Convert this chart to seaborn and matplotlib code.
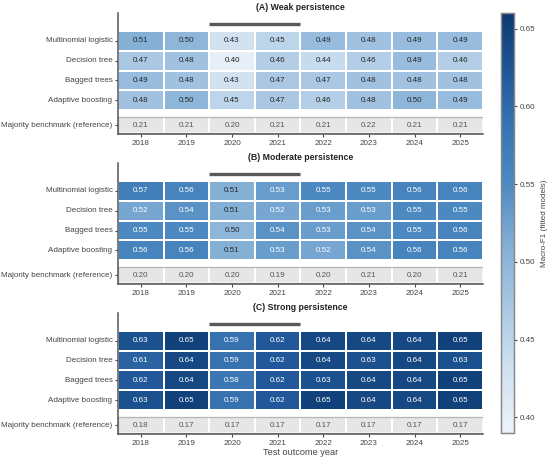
import numpy as np
import pandas as pd
import matplotlib
matplotlib.use("Agg")
import matplotlib.pyplot as plt
import seaborn as sns
from matplotlib.colors import LinearSegmentedColormap
from matplotlib.patches import Rectangle

# data
years = [2018, 2019, 2020, 2021, 2022, 2023, 2024, 2025]
models = ["Multinomial logistic", "Decision tree", "Bagged trees", "Adaptive boosting"]
bench_label = "Majority benchmark (reference)"
covid_years = [2020, 2021]
panel_titles = ["(A) Weak persistence", "(B) Moderate persistence", "(C) Strong persistence"]

weak = [
    [0.51, 0.50, 0.43, 0.45, 0.49, 0.48, 0.49, 0.49],
    [0.47, 0.48, 0.40, 0.46, 0.44, 0.46, 0.49, 0.46],
    [0.49, 0.48, 0.43, 0.47, 0.47, 0.48, 0.48, 0.48],
    [0.48, 0.50, 0.45, 0.47, 0.46, 0.48, 0.50, 0.49],
]
weak_bench = [0.21, 0.21, 0.20, 0.21, 0.21, 0.22, 0.21, 0.21]

moderate = [
    [0.57, 0.56, 0.51, 0.53, 0.55, 0.55, 0.56, 0.56],
    [0.52, 0.54, 0.51, 0.52, 0.53, 0.53, 0.55, 0.55],
    [0.55, 0.55, 0.50, 0.54, 0.53, 0.54, 0.55, 0.56],
    [0.56, 0.56, 0.51, 0.53, 0.52, 0.54, 0.56, 0.56],
]
moderate_bench = [0.20, 0.20, 0.20, 0.19, 0.20, 0.21, 0.20, 0.21]

strong = [
    [0.63, 0.65, 0.59, 0.62, 0.64, 0.64, 0.64, 0.65],
    [0.61, 0.64, 0.59, 0.62, 0.64, 0.63, 0.64, 0.63],
    [0.62, 0.64, 0.58, 0.62, 0.63, 0.64, 0.64, 0.65],
    [0.63, 0.65, 0.59, 0.62, 0.65, 0.64, 0.64, 0.65],
]
strong_bench = [0.18, 0.17, 0.17, 0.17, 0.17, 0.17, 0.17, 0.17]

panels = [(weak, weak_bench), (moderate, moderate_bench), (strong, strong_bench)]
cbar_ticks = [0.40, 0.45, 0.50, 0.55, 0.60, 0.65]

# style
sns.set_theme(style="ticks")
plt.rcParams["font.family"] = ["Liberation Sans", "DejaVu Sans"]

vmin, vmax = 0.39, 0.66
anchors = [0.39, 0.43, 0.47, 0.51, 0.55, 0.59, 0.62, 0.66]
anchor_cols = ["#edf3fa", "#d0e1f0", "#a9c8e3", "#84b0d6", "#4d89c1", "#3672b0", "#22599a", "#0c3a70"]
cmap = LinearSegmentedColormap.from_list(
    "macro_blues", [((a - vmin) / (vmax - vmin), c) for a, c in zip(anchors, anchor_cols)])

fig = plt.figure(figsize=(5.5, 4.61), dpi=100)
cax = fig.add_axes([0.911, 0.0607, 0.0236, 0.911])

ax_bottoms = [0.7093, 0.3839, 0.0586]
bench_top, bench_bot = 4.33, 5.15
fs = 5.8

for i, ((vals, bench), title) in enumerate(zip(panels, panel_titles)):
    ax = fig.add_axes([0.2145, ax_bottoms[i], 0.6636, 0.2625])
    df = pd.DataFrame(vals, index=models, columns=years)
    sns.heatmap(df, ax=ax, cmap=cmap, vmin=vmin, vmax=vmax,
                annot=True, fmt=".2f", annot_kws={"size": fs},
                linewidths=1.3, linecolor="white",
                cbar=(i == 0), cbar_ax=cax if i == 0 else None,
                cbar_kws={"ticks": cbar_ticks})

    # benchmark row, grey, below a small gap
    xe = np.arange(len(years) + 1)
    ax.pcolormesh(xe, [bench_top, bench_bot], np.zeros((1, len(years))),
                  cmap=LinearSegmentedColormap.from_list("g", ["#e6e6e6", "#e6e6e6"]),
                  edgecolors="white", linewidth=1.3)
    ax.add_patch(Rectangle((0, bench_top), len(years), bench_bot - bench_top,
                           fill=False, edgecolor="#b5b5b5", lw=0.9))
    for j, b in enumerate(bench):
        ax.text(j + 0.5, (bench_top + bench_bot) / 2, f"{b:.2f}", ha="center", va="center",
                fontsize=fs, color="#555555")

    # covid bar above 2020-2021
    c0 = years.index(covid_years[0])
    c1 = years.index(covid_years[-1]) + 1
    ax.plot([c0, c1], [-0.33, -0.33], color="#5a5a5a", lw=2.4, solid_capstyle="butt", clip_on=False)

    ax.set_xlim(0, len(years))
    ax.set_ylim(5.18, -0.88)
    ax.set_yticks(list(np.arange(len(models)) + 0.5) + [(bench_top + bench_bot) / 2])
    ax.set_yticklabels(models + [bench_label], rotation=0)
    ax.set_xticks(np.arange(len(years)) + 0.5)
    ax.set_xticklabels(years, rotation=0)
    ax.set_xlabel("")
    ax.set_ylabel("")
    ax.tick_params(axis="both", labelsize=fs, colors="#444444", length=2.5, width=0.8, pad=1.5)
    for side in ["left", "bottom"]:
        ax.spines[side].set_visible(True)
        ax.spines[side].set_color("#555555")
        ax.spines[side].set_linewidth(1.1)
    for side in ["top", "right"]:
        ax.spines[side].set_visible(False)
    ax.set_title(title, fontsize=6.3, fontweight="bold", color="#222222", pad=2)
    if i == 2:
        ax.set_xlabel("Test outcome year", fontsize=6.6, color="#444444", labelpad=1)

# colorbar styling
cax.tick_params(labelsize=fs, colors="#444444", length=2.5, width=0.8, pad=1.5)
cax.set_yticklabels([f"{t:.2f}" for t in cbar_ticks])
cax.set_ylabel("Macro-F1 (fitted models)", fontsize=fs, color="#444444", labelpad=4)
for s in cax.spines.values():
    s.set_visible(True)
    s.set_edgecolor("#888888")
    s.set_linewidth(0.9)

fig.savefig("out.png", dpi=100)
